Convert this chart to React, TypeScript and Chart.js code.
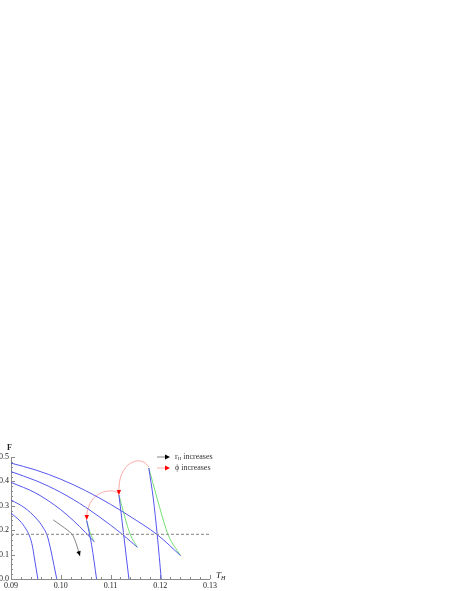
import React, { useEffect, useRef } from "react";
import { Chart, registerables } from "chart.js";
Chart.register(...registerables);

// ---- axis ticks ----
const xTicks = [0.09, 0.1, 0.11, 0.12, 0.13];
const yTicks = [0.0, 0.1, 0.2, 0.3, 0.4, 0.5];
const dashedLevel = 0.183;

// ---- blue branches starting at T_H = 0.09 ----
const blueA = [[0.09, 0.475], [0.095, 0.4465], [0.1, 0.409], [0.105, 0.362], [0.11, 0.306], [0.1139, 0.257], [0.1195, 0.18], [0.1241, 0.0955]];
const blueB = [[0.09, 0.44], [0.095, 0.403], [0.1, 0.355], [0.105, 0.294], [0.11, 0.221], [0.1125, 0.181], [0.1154, 0.13]];
const blueC = [[0.09, 0.396], [0.095, 0.352], [0.1, 0.284], [0.1025, 0.24], [0.105, 0.19], [0.1067, 0.153]];
const blueD = [[0.09, 0.324], [0.0928, 0.291], [0.095, 0.25], [0.0964, 0.213], [0.0973, 0.176], [0.098, 0.119], [0.0986, 0.06], [0.0992, 0]];
const blueE = [[0.09, 0.27], [0.0918, 0.238], [0.093, 0.205], [0.0938, 0.172], [0.0943, 0.135], [0.0947, 0.086], [0.0954, 0]];

// ---- steep blue branches ----
const steep1 = [[0.1052, 0.24], [0.1062, 0.14], [0.1072, 0]];
const steep2 = [[0.1117, 0.344], [0.1126, 0.19], [0.1137, 0]];
const steep3 = [[0.1177, 0.455], [0.1186, 0.33], [0.1194, 0.18], [0.1202, 0]];

// ---- green branches ----
const green1 = [[0.1052, 0.24], [0.1059, 0.19], [0.1067, 0.153]];
const green2 = [[0.1117, 0.344], [0.1134, 0.217], [0.114, 0.181], [0.1154, 0.13]];
const green3 = [[0.1177, 0.455], [0.1206, 0.242], [0.1216, 0.18], [0.1241, 0.0955]];

// ---- red "phi increases" arcs ----
const arcUpper = [[0.117711, 0.459], [0.117108, 0.473], [0.116305, 0.482], [0.115301, 0.484], [0.114297, 0.477], [0.113293, 0.463], [0.11249, 0.439], [0.111988, 0.414], [0.111747, 0.385], [0.111687, 0.357], [0.111687, 0.344]];
const arcLower = [[0.111586, 0.352], [0.110884, 0.359], [0.10988, 0.361], [0.108675, 0.357], [0.10747, 0.346], [0.106466, 0.328], [0.105763, 0.303], [0.105361, 0.279], [0.105221, 0.258], [0.105221, 0.242]];

// ---- black "r_H increases" arrow ----
const rArrow = [[0.09849, 0.242], [0.10024, 0.217], [0.10225, 0.184], [0.10305, 0.148], [0.10386, 0.094]];

const BLUE = "#5656ee";
const GREEN = "#74e074";
const PINK = "#ffa0a0";
const RED = "#ff0000";
const AXIS = "#8a8a8a";
const SERIF = "'Liberation Serif', 'DejaVu Serif', serif";

const pts = (a: number[][]) => a.map(([x, y]) => ({ x, y }));

function drawHead(ctx: CanvasRenderingContext2D, x0: number, y0: number, x1: number, y1: number, color: string, len = 5, wid = 2.2) {
  const ang = Math.atan2(y1 - y0, x1 - x0);
  ctx.save();
  ctx.translate(x1, y1);
  ctx.rotate(ang);
  ctx.fillStyle = color;
  ctx.beginPath();
  ctx.moveTo(0, 0);
  ctx.lineTo(-len, -wid);
  ctx.lineTo(-len, wid);
  ctx.closePath();
  ctx.fill();
  ctx.restore();
}

const overlay = {
  id: "overlay",
  beforeDatasetsDraw(chart: any) {
    const { ctx, chartArea: a, scales } = chart;
    const xs = scales.x, ys = scales.y;
    ctx.save();
    ctx.strokeStyle = AXIS;
    ctx.lineWidth = 1;
    ctx.beginPath();
    ctx.moveTo(a.left + 0.5, a.top);
    ctx.lineTo(a.left + 0.5, a.bottom + 0.5);
    ctx.lineTo(a.right, a.bottom + 0.5);
    ctx.stroke();
    for (let i = 0; i <= 20; i++) {
      const v = xTicks[0] + (i * (xTicks[xTicks.length - 1] - xTicks[0])) / 20;
      const px = Math.round(xs.getPixelForValue(v)) + 0.5;
      const len = i % 5 === 0 ? 4 : 2;
      ctx.beginPath();
      ctx.moveTo(px, a.bottom);
      ctx.lineTo(px, a.bottom - len);
      ctx.stroke();
    }
    for (let i = 0; i <= 25; i++) {
      const v = yTicks[0] + (i * (yTicks[yTicks.length - 1] - yTicks[0])) / 25;
      const py = Math.round(ys.getPixelForValue(v)) + 0.5;
      const len = i % 5 === 0 ? 4 : 2;
      ctx.beginPath();
      ctx.moveTo(a.left, py);
      ctx.lineTo(a.left + len, py);
      ctx.stroke();
    }
    ctx.restore();
  },
  afterDatasetsDraw(chart: any) {
    const { ctx, chartArea: a, scales } = chart;
    const xs = scales.x, ys = scales.y;
    const P = (p: number[]) => [xs.getPixelForValue(p[0]), ys.getPixelForValue(p[1])];
    const headFor = (arr: number[][], color: string) => {
      const p0 = P(arr[arr.length - 2]);
      const p1 = P(arr[arr.length - 1]);
      drawHead(ctx, p0[0], p0[1], p1[0], p1[1], color);
    };
    headFor(arcUpper, RED);
    headFor(arcLower, RED);
    headFor(rArrow, "#000");

    ctx.save();
    ctx.fillStyle = "#222";
    ctx.textBaseline = "alphabetic";
    ctx.font = `bold 8px ${SERIF}`;
    ctx.fillText("F", a.left - 4, a.top - 7);
    ctx.font = `italic 9px ${SERIF}`;
    ctx.fillText("T", a.right + 6, a.bottom - 1);
    ctx.font = `italic 6px ${SERIF}`;
    ctx.fillText("H", a.right + 11, a.bottom + 1);

    const lx = a.left + 146, ly1 = a.top, ly2 = a.top + 11;
    ctx.lineWidth = 0.8;
    ctx.strokeStyle = "#666";
    ctx.beginPath();
    ctx.moveTo(lx, ly1);
    ctx.lineTo(lx + 10, ly1);
    ctx.stroke();
    drawHead(ctx, lx, ly1, lx + 13, ly1, "#000", 5, 2.4);
    ctx.strokeStyle = PINK;
    ctx.beginPath();
    ctx.moveTo(lx, ly2);
    ctx.lineTo(lx + 10, ly2);
    ctx.stroke();
    drawHead(ctx, lx, ly2, lx + 13, ly2, RED, 5, 2.4);

    ctx.fillStyle = "#333";
    ctx.textBaseline = "middle";
    ctx.font = `8px ${SERIF}`;
    const tx = lx + 18;
    ctx.fillText("r", tx, ly1);
    const rw = ctx.measureText("r").width;
    ctx.font = `5px ${SERIF}`;
    ctx.fillText("H", tx + rw, ly1 + 2);
    const hw = ctx.measureText("H").width;
    ctx.font = `8px ${SERIF}`;
    ctx.fillText(" increases", tx + rw + hw, ly1);
    ctx.fillText("ϕ increases", tx, ly2);
    ctx.restore();
  },
};

export default function App() {
  const ref = useRef<HTMLCanvasElement | null>(null);
  useEffect(() => {
    if (!ref.current) return;
    const line = (data: number[][], color: string, extra: any = {}) => ({
      data: pts(data),
      showLine: true,
      borderColor: color,
      borderWidth: 1,
      pointRadius: 0,
      fill: false,
      cubicInterpolationMode: "monotone",
      ...extra,
    });
    const chart = new Chart(ref.current, {
      type: "scatter",
      data: {
        datasets: [
          line([[0.09, dashedLevel], [0.13, dashedLevel]], "#9a9a9a", { borderDash: [3, 2], borderWidth: 1.3 }),
          line(blueA, BLUE),
          line(blueB, BLUE),
          line(blueC, BLUE),
          line(blueD, BLUE),
          line(blueE, BLUE),
          line(steep1, BLUE),
          line(steep2, BLUE),
          line(steep3, BLUE),
          line(green1, GREEN),
          line(green2, GREEN),
          line(green3, GREEN),
          line(arcUpper, PINK, { cubicInterpolationMode: "default", tension: 0.4, borderWidth: 0.9 }),
          line(arcLower, PINK, { cubicInterpolationMode: "default", tension: 0.4, borderWidth: 0.9 }),
          line(rArrow, "#666", { cubicInterpolationMode: "default", tension: 0.3, borderWidth: 0.8 }),
        ] as any,
      },
      options: {
        responsive: false,
        animation: false,
        devicePixelRatio: 1,
        layout: { padding: { left: 0, right: 247, top: 457, bottom: 0 } },
        plugins: { legend: { display: false }, tooltip: { enabled: false } },
        scales: {
          x: {
            type: "linear",
            min: 0.09,
            max: 0.13,
            afterBuildTicks: (s: any) => {
              s.ticks = xTicks.map((v) => ({ value: v }));
            },
            afterFit: (s: any) => {
              s.height = 12;
            },
            ticks: {
              callback: (v: any) => Number(v).toFixed(2),
              font: { family: SERIF, size: 8 },
              color: "#222",
              padding: 2,
              maxRotation: 0,
              autoSkip: false,
            },
            grid: { display: false, drawTicks: false },
            border: { display: false },
          },
          y: {
            type: "linear",
            min: 0,
            max: 0.5,
            afterBuildTicks: (s: any) => {
              s.ticks = yTicks.map((v) => ({ value: v }));
            },
            afterFit: (s: any) => {
              s.width = 11;
            },
            ticks: {
              callback: (v: any) => Number(v).toFixed(1),
              font: { family: SERIF, size: 8 },
              color: "#222",
              padding: 2,
              autoSkip: false,
            },
            grid: { display: false, drawTicks: false },
            border: { display: false },
          },
        },
      } as any,
      plugins: [overlay],
    });
    return () => chart.destroy();
  }, []);
  return (
    <div style={{ position: "absolute", left: 0, top: 0, width: 457, height: 591 }}>
      <canvas ref={ref} width={457} height={591} style={{ display: "block" }} />
    </div>
  );
}
